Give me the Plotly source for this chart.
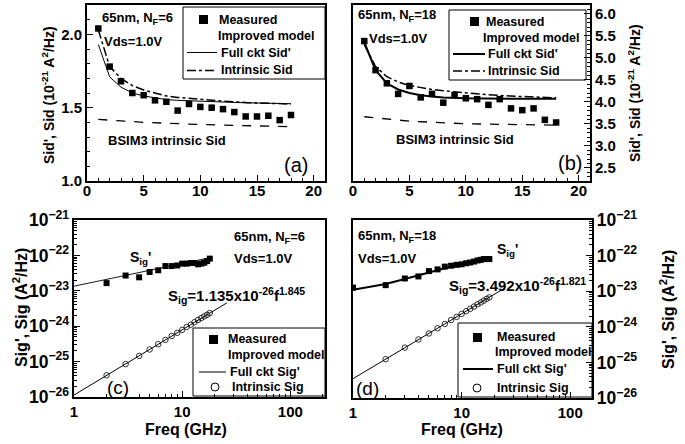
import plotly.graph_objects as go

# ---------------- data ----------------
freq_ab = list(range(1, 19))

a_measured = [2.04, 1.78, 1.68, 1.60, 1.585, 1.55, 1.54, 1.48, 1.525, 1.505, 1.50, 1.49, 1.47, 1.44, 1.44, 1.445, 1.415, 1.45]
a_model_f = [1, 2, 3, 4, 5, 6, 7, 8, 10, 12, 14, 16, 18]
a_full = [1.93, 1.71, 1.64, 1.60, 1.58, 1.565, 1.555, 1.55, 1.543, 1.537, 1.533, 1.53, 1.527]
a_intr = [2.03, 1.78, 1.70, 1.65, 1.62, 1.60, 1.58, 1.57, 1.555, 1.545, 1.535, 1.53, 1.525]
bsim_f = [1, 5, 10, 15, 18]
a_bsim = [1.42, 1.40, 1.385, 1.375, 1.37]

b_measured = [5.38, 4.72, 4.42, 4.18, 4.36, 4.10, 4.18, 3.98, 4.155, 4.08, 4.06, 3.93, 4.06, 3.85, 3.81, 3.85, 3.59, 3.53]
b_full = [5.35, 4.72, 4.42, 4.28, 4.20, 4.15, 4.12, 4.10, 4.08, 4.07, 4.07, 4.07, 4.07]
b_intr = [5.30, 4.80, 4.57, 4.45, 4.37, 4.32, 4.28, 4.25, 4.20, 4.16, 4.13, 4.11, 4.09]
b_bsim = [3.66, 3.56, 3.50, 3.48, 3.47]

c_meas_f = list(range(2, 19))
c_measured = [1.65e-23, 2.7e-23, 2.4e-23, 3.4e-23, 3.8e-23, 5.0e-23, 5.0e-23, 5.2e-23, 5.85e-23,
              5.85e-23, 6.1e-23, 6.1e-23, 5.6e-23, 5.85e-23, 6.2e-23, 6.9e-23, 8.1e-23]
cd_full_f = [1, 2, 3, 5, 7, 10, 14, 18]
c_full = [1.35e-23, 2.1e-23, 2.7e-23, 3.7e-23, 4.6e-23, 5.8e-23, 7.2e-23, 8.6e-23]
c_intr_f = list(range(2, 19))
c_intr = [4.1e-26, 8.5e-26, 1.45e-25, 2.2e-25, 3.1e-25, 4.1e-25, 5.3e-25, 6.5e-25, 7.9e-25,
          9.5e-25, 1.1e-24, 1.3e-24, 1.5e-24, 1.7e-24, 1.9e-24, 2.1e-24, 2.35e-24]
c_fit_f = [1, 26]
c_fit = [1.135e-26, 4.6e-24]

d_meas_f = list(range(1, 19))
d_measured = [1.26e-23, 1.48e-23, 2.28e-23, 2.6e-23, 3.67e-23, 4.1e-23, 4.9e-23, 5.2e-23, 5.5e-23,
              5.7e-23, 6.1e-23, 6.4e-23, 6.8e-23, 7.3e-23, 7.6e-23, 8.0e-23, 8.0e-23, 8.0e-23]
d_full = [1.1e-23, 1.6e-23, 2.2e-23, 3.4e-23, 4.4e-23, 5.7e-23, 7.1e-23, 8.3e-23]
d_intr_f = list(range(2, 19))
d_intr = [1.23e-25, 2.6e-25, 4.4e-25, 6.5e-25, 9.1e-25, 1.2e-24, 1.55e-24, 1.9e-24, 2.3e-24,
          2.75e-24, 3.2e-24, 3.7e-24, 4.3e-24, 4.8e-24, 5.4e-24, 6.1e-24, 6.7e-24]
d_fit_f = [1, 25]
d_fit = [3.49e-26, 1.23e-23]

# ---------------- figure ----------------
W, H = 685, 444
FONT = "Liberation Sans"


def px(x):
    return x / W


def py(y):
    return 1 - y / H


fig = go.Figure()


def line(x, y, ax, width=1, dash="solid"):
    fig.add_trace(go.Scatter(x=x, y=y, mode="lines", xaxis=ax[0], yaxis=ax[1], showlegend=False,
                             line=dict(color="black", width=width, dash=dash)))


def squares(x, y, ax, size=6.5):
    fig.add_trace(go.Scatter(x=x, y=y, mode="markers", xaxis=ax[0], yaxis=ax[1], showlegend=False,
                             marker=dict(symbol="square", size=size, color="black")))


def circles(x, y, ax, size=5.5):
    fig.add_trace(go.Scatter(x=x, y=y, mode="markers", xaxis=ax[0], yaxis=ax[1], showlegend=False,
                             marker=dict(symbol="circle-open", size=size, color="black",
                                         line=dict(width=0.8, color="black"))))


A = ("x", "y")
B = ("x2", "y2")
C = ("x3", "y3")
D = ("x4", "y4")

# panel (a)
line(bsim_f, a_bsim, A, 1.3, "dash")
line(a_model_f, a_full, A, 1)
line(a_model_f, a_intr, A, 1.5, "dashdot")
squares(freq_ab, a_measured, A)
# panel (b)
line(bsim_f, b_bsim, B, 1.3, "dash")
line(a_model_f, b_full, B, 2)
line(a_model_f, b_intr, B, 1.5, "dashdot")
squares(freq_ab, b_measured, B)
# panel (c)
line(c_fit_f, c_fit, C, 1)
line(cd_full_f, c_full, C, 0.9)
circles(c_intr_f, c_intr, C)
squares(c_meas_f, c_measured, C, 6)
# panel (d)
line(d_fit_f, d_fit, D, 1)
line(cd_full_f, d_full, D, 2)
circles(d_intr_f, d_intr, D)
squares(d_meas_f, d_measured, D, 6)

tickfont = dict(family=FONT, size=15, color="black", weight="bold")
logtickfont = dict(family=FONT, size=14, color="black", weight="bold")


def axis(**kw):
    base = dict(showline=True, linewidth=2, linecolor="black", mirror=True, ticks="inside",
                ticklen=6, tickwidth=1.3, tickcolor="black", showgrid=False, zeroline=False,
                automargin=False, tickfont=tickfont)
    base.update(kw)
    return base


def minor(dt):
    return dict(ticks="inside", ticklen=3, tickwidth=1, tickcolor="black", dtick=dt, showgrid=False)


fig.update_layout(
    width=W, height=H, template="none", showlegend=False,
    margin=dict(l=0, r=0, t=0, b=0), paper_bgcolor="white", plot_bgcolor="white",
    font=dict(family=FONT, color="black"),
    xaxis=axis(domain=[px(87), px(325)], range=[0, 21], dtick=5, tick0=0, anchor="y", minor=minor(1),
               ticklabelstandoff=-5),
    yaxis=axis(domain=[py(181), py(5)], range=[1.0, 2.2], dtick=0.5, tick0=0, tickformat=".1f",
               anchor="x", minor=minor(0.1)),
    xaxis2=axis(domain=[px(353), px(590)], range=[0, 21], dtick=5, tick0=0, anchor="y2", minor=minor(1),
                ticklabelstandoff=-5),
    yaxis2=axis(domain=[py(181), py(5)], range=[2.2, 6.2], dtick=0.5, tick0=0, tickformat=".1f",
                anchor="x2", side="right", minor=minor(0.1)),
    xaxis3=axis(type="log", domain=[px(74), px(325)], range=[0, 2.32], dtick=1, anchor="y3",
                minor=minor("D1")),
    yaxis3=axis(type="log", domain=[py(397), py(220)], range=[-26, -21], dtick=1, anchor="x3",
                exponentformat="power", showexponent="all", minor=minor("D1"), tickfont=logtickfont),
    xaxis4=axis(type="log", domain=[px(353), px(592)], range=[0, 2.2], dtick=1, anchor="y4",
                minor=minor("D1")),
    yaxis4=axis(type="log", domain=[py(398), py(220)], range=[-26, -21], dtick=1, anchor="x4",
                side="right", exponentformat="power", showexponent="all", minor=minor("D1"),
                tickfont=logtickfont),
)

annotations = []
shapes = []


def text(x, y, s, size=13, bold=True, xanchor="left", angle=0):
    annotations.append(dict(x=px(x), y=py(y), xref="paper", yref="paper", text=s, showarrow=False,
                            xanchor=xanchor, yanchor="middle", textangle=angle,
                            font=dict(family=FONT, size=size, color="black",
                                      weight="bold" if bold else "normal")))


def rect(x0, y0, x1, y1, fill=None, width=1):
    shapes.append(dict(type="rect", xref="paper", yref="paper", x0=px(x0), x1=px(x1), y0=py(y1), y1=py(y0),
                       line=dict(color="black", width=width), fillcolor=fill if fill else "rgba(0,0,0,0)"))


def seg(x0, x1, y, width=1, dash="solid"):
    shapes.append(dict(type="line", xref="paper", yref="paper", x0=px(x0), x1=px(x1), y0=py(y), y1=py(y),
                       line=dict(color="black", width=width, dash=dash)))


def circ(cx, cy, r):
    shapes.append(dict(type="circle", xref="paper", yref="paper", x0=px(cx - r), x1=px(cx + r),
                       y0=py(cy + r), y1=py(cy - r), line=dict(color="black", width=1)))


LG = 12.5  # legend text size

# ---- panel (a) texts ----
text(100, 18, "65nm, N<sub>F</sub>=6")
text(102, 41, "Vds=1.0V")
text(106, 140, "BSIM3 intrinsic Sid")
text(282, 165, "(a)", size=20, bold=False)
rect(183, 7, 325, 79)
rect(199, 15, 208, 24, fill="black", width=0)
text(217, 20, "Measured", LG)
text(216, 36, "Improved model", LG)
seg(187, 217, 52.5, 1)
text(219, 53, "Full ckt Sid'", LG)
seg(187, 217, 70.5, 1.5, "dashdot")
text(219, 70, "Intrinsic Sid", LG)
text(48, 95, "Sid', Sid (10<sup>-21</sup> A<sup>2</sup>/Hz)", size=14, xanchor="center", angle=-90)

# ---- panel (b) texts ----
text(356, 16, "65nm, N<sub>F</sub>=18")
text(367, 39, "Vds=1.0V")
text(394, 139, "BSIM3 intrinsic Sid")
text(556, 163, "(b)", size=20, bold=False)
rect(449, 10, 586, 80)
rect(470, 17, 479, 26, fill="black", width=0)
text(484, 22, "Measured", LG)
text(481, 38, "Improved model", LG)
seg(453, 485, 54, 2)
text(486, 54, "Full ckt Sid'", LG)
seg(453, 485, 71, 1.5, "dashdot")
text(486, 71, "Intrinsic Sid", LG)
text(634, 93, "Sid', Sid (10<sup>-21</sup> A<sup>2</sup>/Hz)", size=14, xanchor="center", angle=-90)

# ---- panel (c) texts ----
text(232, 237, "65nm, N<sub>F</sub>=6")
text(232, 258, "Vds=1.0V")
text(128, 258, "S<sub>ig</sub>'", size=14)
text(166, 295, "S<sub>ig</sub>=1.135x10<sup>-26</sup>f<sup>1.845</sup>", size=15)
text(105, 387, "(c)", size=19, bold=False)
rect(193, 328, 325, 396)
rect(209, 335, 218, 344, fill="black", width=0)
text(226, 339, "Measured", LG)
text(226, 355, "Improved model", LG)
seg(199, 226, 372, 1)
text(228, 372, "Full ckt Sig'", LG)
circ(215, 387, 4)
text(230, 387, "Intrinsic Sig", LG)
text(20, 308, "Sig', Sig (A<sup>2</sup>/Hz)", size=16, xanchor="center", angle=-90)
text(186, 429, "Freq (GHz)", size=16, xanchor="center")

# ---- panel (d) texts ----
text(356, 236, "65nm, N<sub>F</sub>=18")
text(356, 258, "Vds=1.0V")
text(495, 250, "S<sub>ig</sub>'", size=14)
text(447, 285, "S<sub>ig</sub>=3.492x10<sup>-26</sup>f<sup>1.821</sup>", size=15)
text(354, 388, "(d)", size=19, bold=False)
rect(458, 323, 592, 397)
rect(473, 333, 482, 342, fill="black", width=0)
text(495, 337, "Measured", LG)
text(493, 352, "Improved model", LG)
seg(463, 493, 369, 2)
text(495, 369, "Full ckt Sig'", LG)
circ(477, 388, 4)
text(495, 388, "Intrinsic Sig", LG)
text(667, 310, "Sig', Sig (A<sup>2</sup>/Hz)", size=16, xanchor="center", angle=-90)
text(462, 429, "Freq (GHz)", size=16, xanchor="center")

fig.update_layout(annotations=annotations, shapes=shapes)
fig.write_html("out.html", config={"displayModeBar": False},
               post_script="document.body.style.margin='0px';document.body.style.overflow='hidden';")
